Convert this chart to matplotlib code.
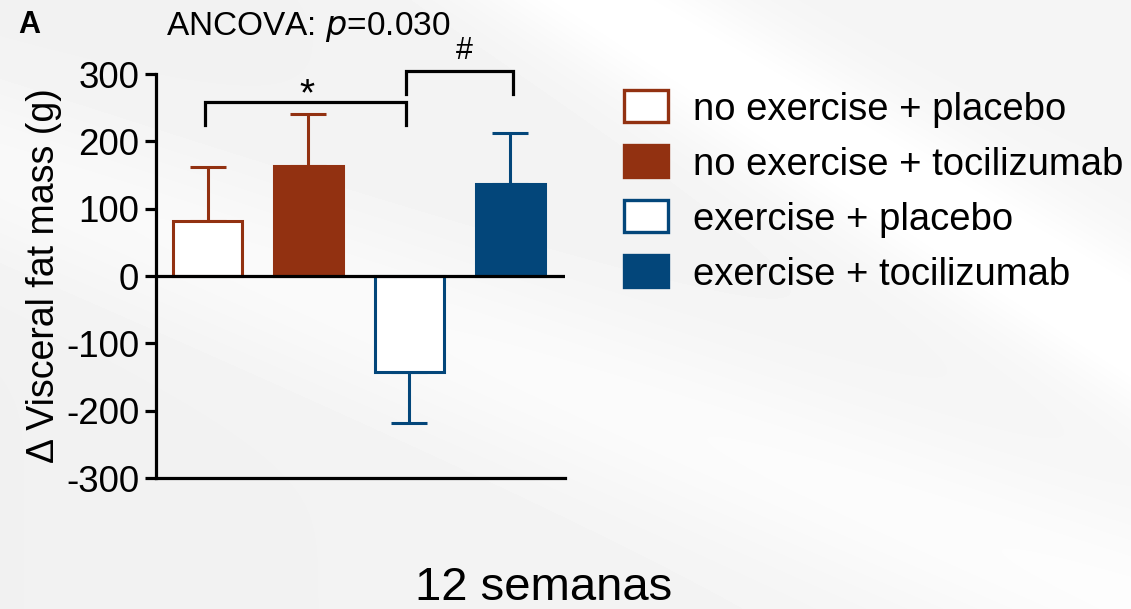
import numpy as np
import matplotlib
matplotlib.use("Agg")
import matplotlib.pyplot as plt
from matplotlib.patches import Rectangle

plt.rcParams['font.family'] = ['Liberation Sans', 'DejaVu Sans']
plt.rcParams['axes.unicode_minus'] = False

# Group means and SEM (g), change in visceral fat mass after 12 weeks
groups = ['no exercise + placebo', 'no exercise + tocilizumab',
          'exercise + placebo', 'exercise + tocilizumab']
means = [82, 163, -143, 136]
sems = [80, 78, 75, 77]

BROWN = '#923111'
BLUE = '#03467a'
fills = ['white', BROWN, 'white', BLUE]
edges = [BROWN, BROWN, BLUE, BLUE]

W, H = 1131, 609
fig = plt.figure(figsize=(W / 100, H / 100), dpi=100)

# soft grey slide background with a light diagonal swoosh
yy, xx = np.mgrid[0:H, 0:W].astype(float)
x0, y0, x1, y1 = 600, 0, 1131, 330
dist = np.abs((y1 - y0) * xx - (x1 - x0) * yy + x1 * y0 - y1 * x0) / np.hypot(x1 - x0, y1 - y0)
x2, y2, x3, y3 = 420, 330, 1131, 600
dist2 = np.abs((y3 - y2) * xx - (x3 - x2) * yy + x3 * y2 - y3 * x2) / np.hypot(x3 - x2, y3 - y2)
img = 0.945 + 0.05 * np.exp(-(dist / 70) ** 2) + 0.03 * np.exp(-(dist2 / 90) ** 2) + 0.015 * xx / W
img = np.clip(img, 0, 1)
bg = fig.add_axes([0, 0, 1, 1], zorder=-1)
bg.imshow(img, cmap='gray', vmin=0, vmax=1, aspect='auto', interpolation='bilinear')
bg.axis('off')

ax = fig.add_axes([156 / W, (H - 478) / H, 409 / W, 404 / H])
ax.set_facecolor('none')

x = np.arange(len(means))
lower = [s if m < 0 else 0 for m, s in zip(means, sems)]
upper = [s if m >= 0 else 0 for m, s in zip(means, sems)]
for i in range(len(means)):
    ax.errorbar(x[i], means[i], yerr=[[lower[i]], [upper[i]]], fmt='none',
                ecolor=edges[i], elinewidth=2.2, capsize=13, capthick=2.2, zorder=1)
ax.bar(x, means, width=0.68, color=fills, edgecolor=edges, linewidth=2.2, zorder=2)

ax.axhline(0, color='black', linewidth=2.3, zorder=3)
ax.set_xlim(-0.51, 3.54)
ax.set_ylim(-300, 300)
ax.set_yticks(np.arange(-300, 301, 100))
ax.set_xticks([])
ax.tick_params(axis='y', labelsize=26.5, width=2.3, length=8, pad=4)
for side in ['top', 'right']:
    ax.spines[side].set_visible(False)
for side in ['left', 'bottom']:
    ax.spines[side].set_linewidth(2.3)
ax.set_ylabel('\u0394 Visceral fat mass (g)', fontsize=27, labelpad=3)

# significance brackets
ax.plot([-0.025, -0.025, 1.97, 1.97], [225, 258, 258, 225], color='black',
        linewidth=2.3, clip_on=False, solid_joinstyle='miter')
ax.plot([1.97, 1.97, 3.03, 3.03], [271, 305, 305, 271], color='black',
        linewidth=2.3, clip_on=False, solid_joinstyle='miter')
ax.text(0.985, 253, '*', fontsize=28, ha='center', va='baseline')
ax.text(2.54, 322, '#', fontsize=22, ha='center', va='baseline')

fig.text(29 / W, 1 - 33 / H, 'A', fontsize=22, fontweight='bold', ha='center', va='baseline')
fig.text(308 / W, 1 - 35 / H, 'ANCOVA: $\\it{p}$=0.030', fontsize=24, ha='center', va='baseline')
fig.text(544 / W, 1 - 600 / H, '12 semanas', fontsize=34, ha='center', va='baseline')

# legend drawn in figure pixels
rows = [106, 161, 216, 271]
for label, fc, ec, yc in zip(groups, fills, edges, rows):
    fig.add_artist(Rectangle((624 / W, 1 - (yc + 16) / H), 44 / W, 32 / H,
                             facecolor=fc, edgecolor=ec, linewidth=2.4,
                             transform=fig.transFigure))
    fig.text(693 / W, 1 - (yc + 14) / H, label, fontsize=27.5, ha='left', va='baseline')

fig.savefig('out.png', dpi=100)
